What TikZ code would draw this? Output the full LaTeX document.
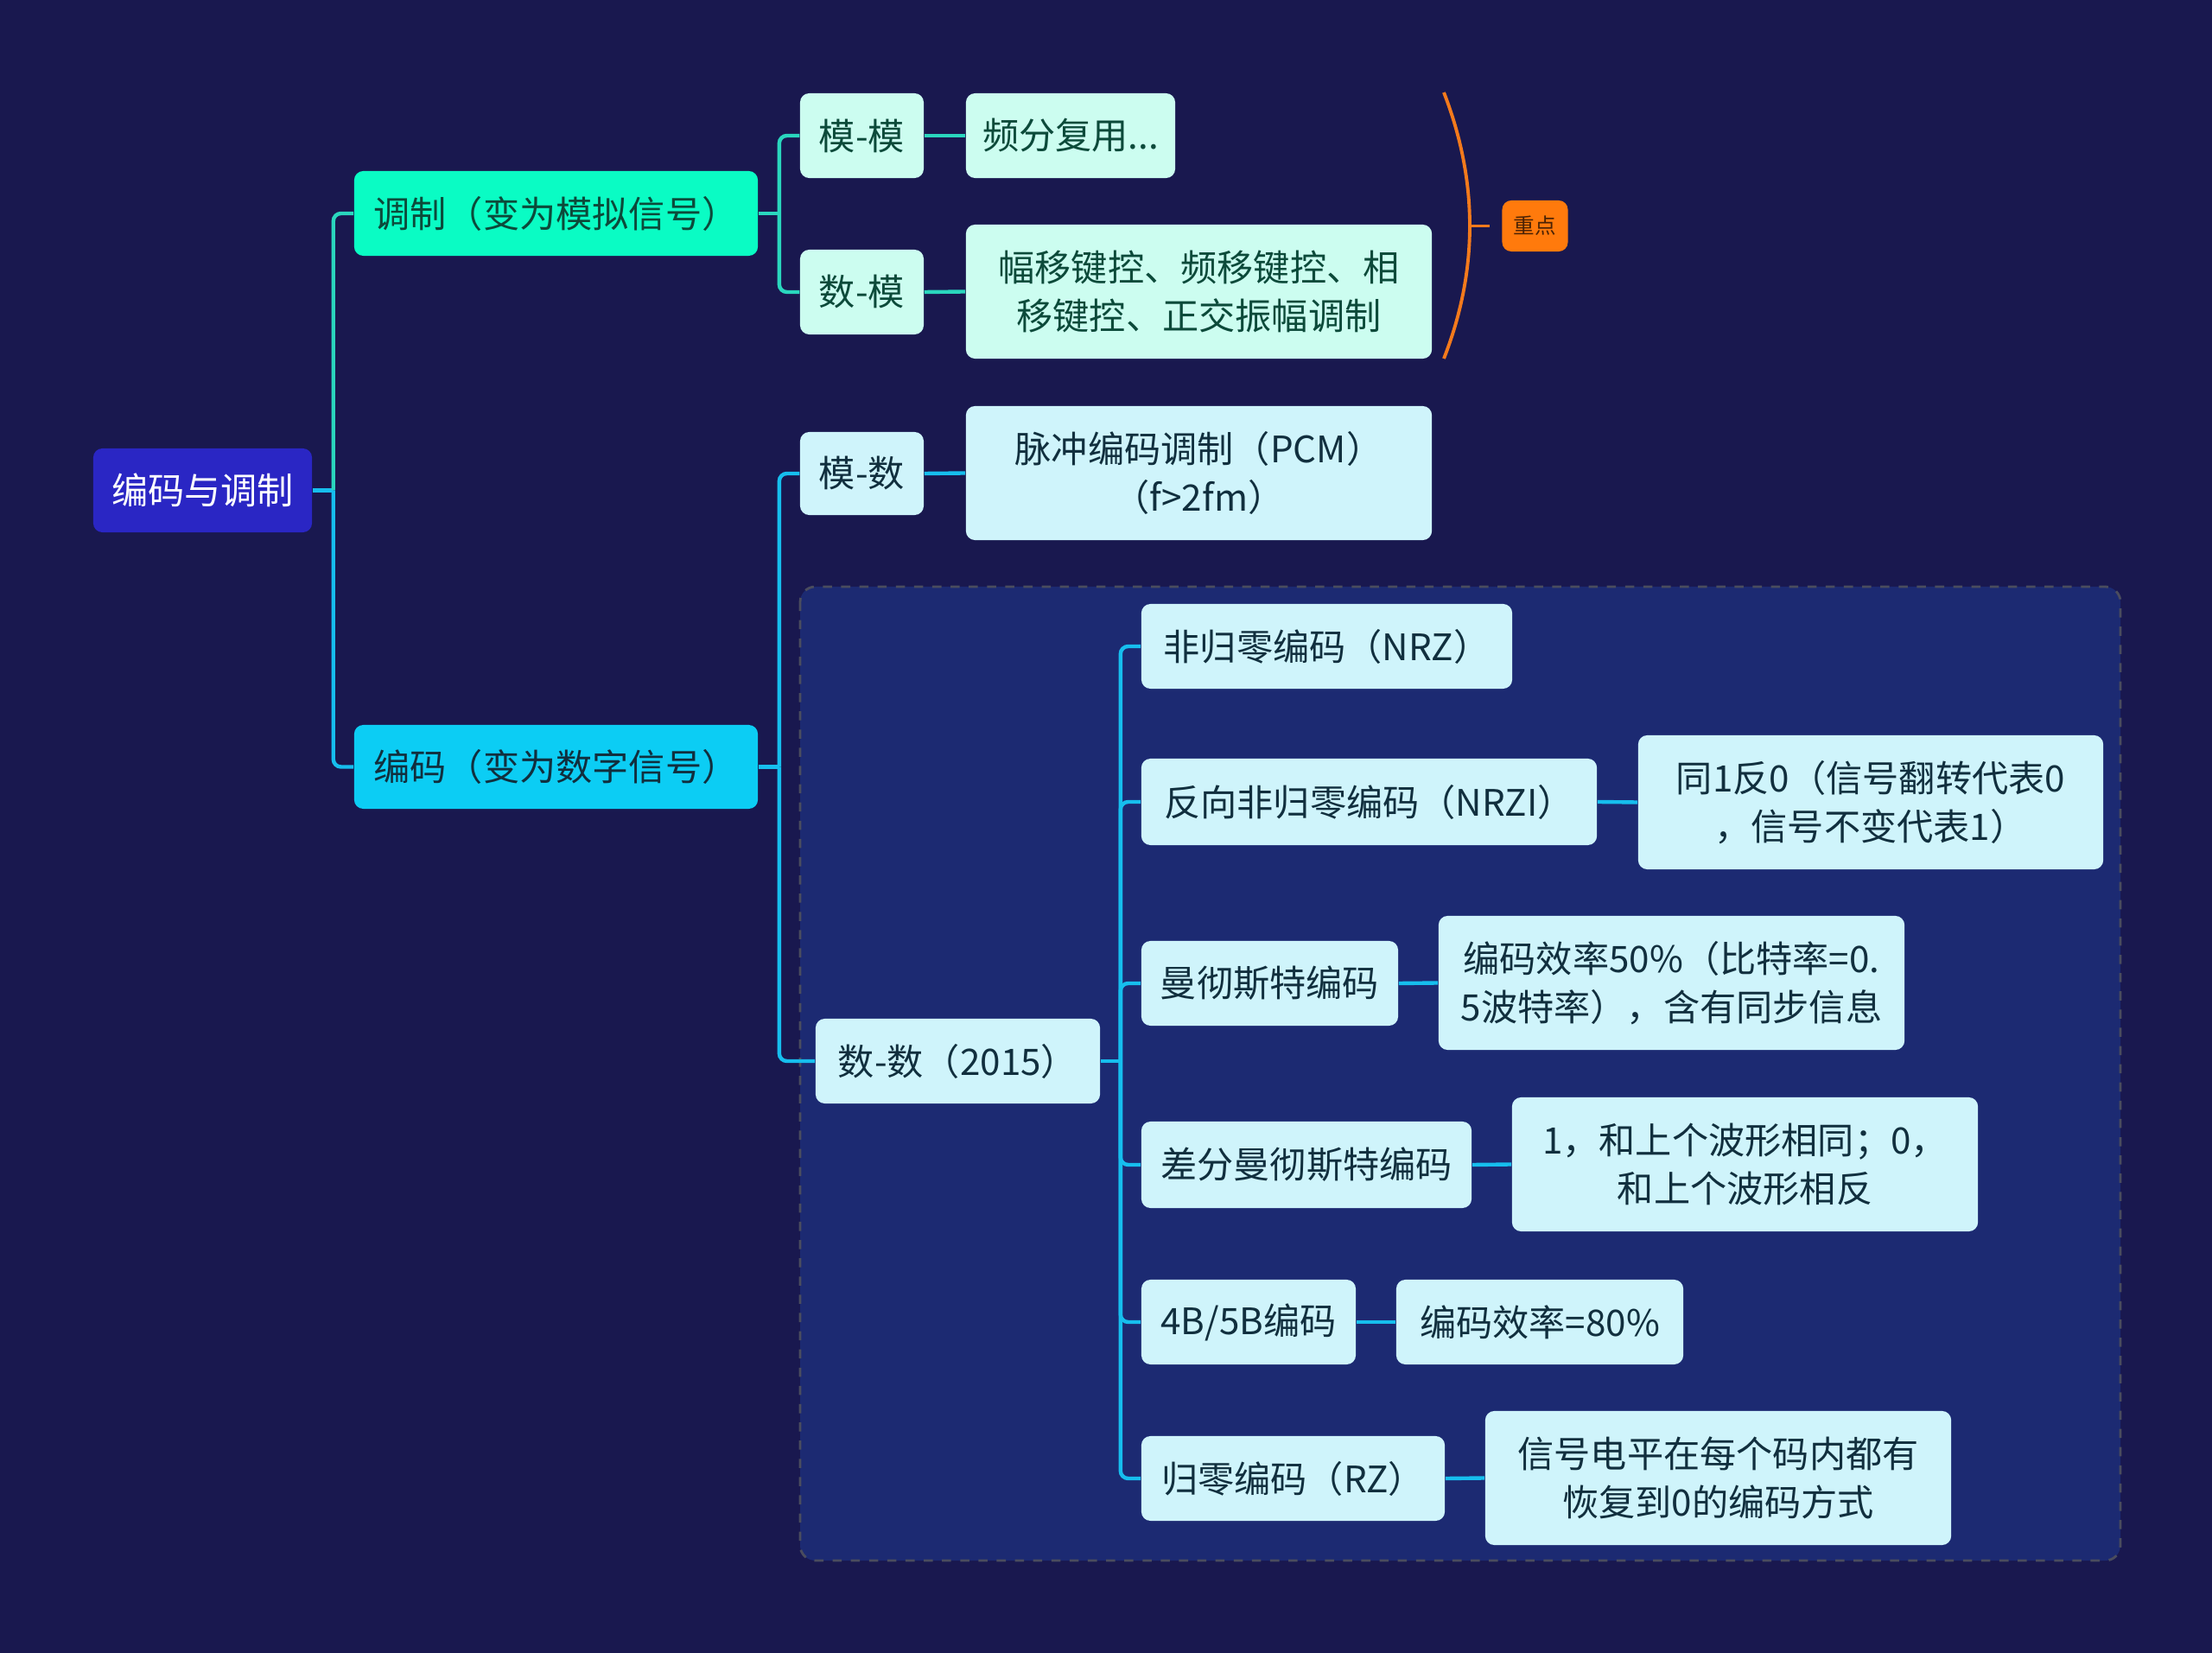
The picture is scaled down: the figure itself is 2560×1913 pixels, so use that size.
\documentclass[tikz,border=0pt]{standalone}
\usepackage{fontspec}
\setmainfont{Noto Sans CJK SC}
\usetikzlibrary{positioning}
\usepackage{xcolor}
\definecolor{BgNavy}{HTML}{19184F}
\definecolor{GroupBlue}{HTML}{1C2A72}
\definecolor{GroupLine}{HTML}{4A4C5E}
\definecolor{RootBlue}{HTML}{2A26C4}
\definecolor{AquaGreen}{HTML}{0AFCC4}
\definecolor{SkyCyan}{HTML}{0CCDF4}
\definecolor{MintPale}{HTML}{CCFDF0}
\definecolor{IcePale}{HTML}{CFF4FB}
\definecolor{TealLine}{HTML}{2AD6BE}
\definecolor{CyanLine}{HTML}{16BEEE}
\definecolor{GreenText}{HTML}{0C4A3A}
\definecolor{NavyText}{HTML}{112F3E}
\definecolor{Orange}{HTML}{F47A1C}
\definecolor{OrangeHi}{HTML}{FF7A0C}
\definecolor{BrownText}{HTML}{4A2205}

\begin{document}
\begin{tikzpicture}[
      x=0.01cm, y=-0.01cm,
      rbox/.style={rounded corners=3pt, align=center, inner sep=0pt,
                   font=\fontsize{12}{15.8}\selectfont},
      mint/.style={rbox, fill=MintPale, text=GreenText},
      ice/.style={rbox, fill=IcePale, text=NavyText},
      tlink/.style={draw=TealLine, line width=1.25pt, rounded corners=2.5pt},
      clink/.style={draw=CyanLine, line width=1.25pt, rounded corners=2.5pt}
    ]
      \useasboundingbox (0,0) rectangle (2560,1913);
      \fill[BgNavy] (0,0) rectangle (2560,1913);
      % group behind the digital-to-digital branch
      \draw[GroupLine, fill=GroupBlue, dashed, line width=0.8pt, rounded corners=5pt]
        (926,679) rectangle (2454,1806);

      \node[rbox, fill=RootBlue, text=white, minimum width=2.53cm, minimum height=0.97cm]
        (root) at (234.5,567.5) {编码与调制};
      \node[rbox, fill=AquaGreen, text=GreenText, minimum width=4.67cm, minimum height=0.98cm]
        (tz) at (643.5,247) {调制（变为模拟信号）};
      \node[rbox, fill=SkyCyan, text=NavyText, minimum width=4.67cm, minimum height=0.97cm]
        (bm) at (643.5,887.5) {编码（变为数字信号）};

      % modulation
      \node[mint, minimum width=1.43cm, minimum height=0.98cm] (mm) at (997.5,157) {模-模};
      \node[mint, minimum width=2.42cm, minimum height=0.98cm] (pf) at (1239,157) {频分复用...};
      \node[mint, minimum width=1.43cm, minimum height=0.98cm] (sm) at (997.5,338) {数-模};
      \node[mint, minimum width=5.39cm, minimum height=1.55cm] (fy) at (1387.5,337.5)
        {幅移键控、频移键控、相\\移键控、正交振幅调制};

      % coding
      \node[ice, minimum width=1.43cm, minimum height=0.96cm] (ms) at (997.5,548) {模-数};
      \node[ice, minimum width=5.39cm, minimum height=1.55cm] (pcm) at (1387.5,547.5)
        {脉冲编码调制（PCM）\\（f>2fm）};
      \node[ice, minimum width=3.29cm, minimum height=0.98cm] (ss) at (1108.5,1228) {数-数（2015）};

      \node[ice, minimum width=4.29cm, minimum height=0.98cm] (nrz) at (1535.5,748) {非归零编码（NRZ）};
      \node[ice, minimum width=5.27cm, minimum height=1.00cm] (nrzi) at (1584.5,928) {反向非归零编码（NRZI）};
      \node[ice, minimum width=5.38cm, minimum height=1.55cm] (nrzid) at (2165,928.5)
        {同1反0（信号翻转代表0\\，信号不变代表1）};
      \node[ice, minimum width=2.97cm, minimum height=0.98cm] (mc) at (1469.5,1138) {曼彻斯特编码};
      \node[ice, minimum width=5.39cm, minimum height=1.55cm] (mcd) at (1934.5,1137.5)
        {编码效率50\%（比特率=0.\\5波特率），含有同步信息};
      \node[ice, minimum width=3.82cm, minimum height=1.00cm] (dmc) at (1512,1348) {差分曼彻斯特编码};
      \node[ice, minimum width=5.39cm, minimum height=1.55cm] (dmcd) at (2019.5,1347.5)
        {1，和上个波形相同；0，\\和上个波形相反};
      \node[ice, minimum width=2.48cm, minimum height=0.98cm] (fb) at (1445,1530) {4B/5B编码};
      \node[ice, minimum width=3.32cm, minimum height=0.98cm] (fbd) at (1782,1530) {编码效率=80\%};
      \node[ice, minimum width=3.51cm, minimum height=0.98cm] (rz) at (1496.5,1711) {归零编码（RZ）};
      \node[ice, minimum width=5.39cm, minimum height=1.55cm] (rzd) at (1988.5,1710.5)
        {信号电平在每个码内都有\\恢复到0的编码方式};

      \node[rbox, fill=OrangeHi, text=BrownText, font=\fontsize{7}{8}\selectfont,
            minimum width=0.76cm, minimum height=0.59cm] (zd) at (1776.5,261.5) {重点};

      % forks
      \coordinate (rootfork) at ([xshift=0.24cm]root.east);
      \coordinate (tzfork) at ([xshift=0.24cm]tz.east);
      \coordinate (bmfork) at ([xshift=0.24cm]bm.east);
      \coordinate (ssfork) at ([xshift=0.23cm]ss.east);

      \draw[clink] (root.east) -- (rootfork);
      \draw[tlink] (rootfork) |- (tz.west);
      \draw[clink] (rootfork) |- (bm.west);

      \draw[tlink] (tz.east) -- (tzfork);
      \draw[tlink] (tzfork) |- (mm.west);
      \draw[tlink] (tzfork) |- (sm.west);
      \draw[tlink] (mm.east) -- (pf.west);
      \draw[tlink] (sm.east) -- (fy.west);

      \draw[clink] (bm.east) -- (bmfork);
      \draw[clink] (bmfork) |- (ms.west);
      \draw[clink] (bmfork) |- (ss.west);
      \draw[clink] (ms.east) -- (pcm.west);

      \draw[clink] (ss.east) -- (ssfork);
      \foreach \n in {nrz,nrzi,mc,dmc,fb,rz}
        \draw[clink] (ssfork) |- (\n.west);
      \draw[clink] (nrzi.east) -- (nrzid.west);
      \draw[clink] (mc.east) -- (mcd.west);
      \draw[clink] (dmc.east) -- (dmcd.west);
      \draw[clink] (fb.east) -- (fbd.west);
      \draw[clink] (rz.east) -- (rzd.west);

      % summary bracket
      \coordinate (brtop) at (1671,107);
      \coordinate (brbot) at (1671,415);
      \coordinate (brmid) at (1701,261.5);
      \draw[Orange, line width=1.1pt] (brtop) .. controls (1711,210) and (1711,313) .. (brbot);
      \draw[Orange, line width=1.1pt, shorten >=0.14cm] (brmid) -- (zd.west);
    \end{tikzpicture}
\end{document}
